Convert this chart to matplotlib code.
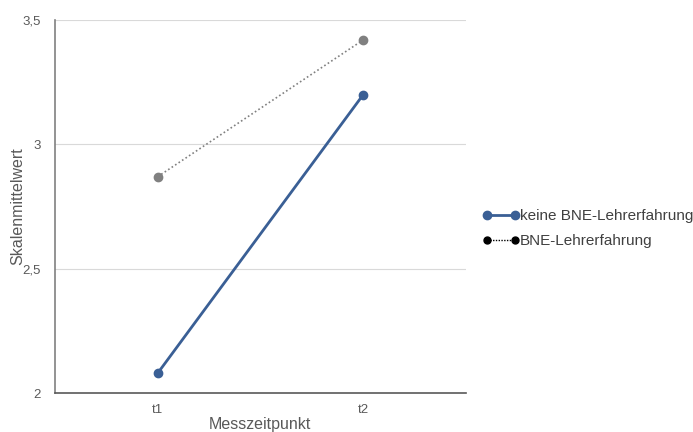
import matplotlib
matplotlib.use("Agg")
import matplotlib.pyplot as plt
from matplotlib.lines import Line2D

plt.rcParams['font.family'] = ['Liberation Sans', 'DejaVu Sans']

categories = ["t1", "t2"]
keine_bne = [2.08, 3.20]
bne = [2.87, 3.42]
series_names = ["keine BNE-Lehrerfahrung", "BNE-Lehrerfahrung"]
yticks = [2, 2.5, 3, 3.5]
ytick_labels = ["2", "2,5", "3", "3,5"]

fig = plt.figure(figsize=(6.93, 4.32), dpi=100)
L, R, T, B = 55, 466, 20, 393
ax = fig.add_axes([L/693, 1-B/432, (R-L)/693, (B-T)/432])

x = list(range(len(categories)))
blue = "#3A5F95"
gray = "#808080"
ax.plot(x, keine_bne, color=blue, lw=2, marker='o', ms=6, zorder=3)
ax.plot(x, bne, color=gray, lw=1.2, ls=(0, (1, 1.5)), marker='o', ms=6, zorder=3)

ax.set_xlim(-0.5, 1.5)
ax.set_ylim(2, 3.5)
ax.set_xticks(x)
ax.set_xticklabels(categories)
ax.set_yticks(yticks)
ax.set_yticklabels(ytick_labels)
ax.tick_params(length=0, labelsize=9.5, colors="#595959")
ax.tick_params(axis='x', pad=8)
ax.tick_params(axis='y', pad=10)
ax.grid(axis='y', color="#D9D9D9", lw=0.8)
ax.set_axisbelow(True)
for s in ["top", "right"]:
    ax.spines[s].set_visible(False)
ax.spines["left"].set_color("#808080")
ax.spines["bottom"].set_color("#595959")
ax.spines["left"].set_linewidth(1.2)
ax.spines["bottom"].set_linewidth(1.2)

ax.set_xlabel("Messzeitpunkt", fontsize=11.5, color="#595959")
ax.set_ylabel("Skalenmittelwert", fontsize=11.5, color="#595959")
ax.xaxis.set_label_coords((260 - L) / (R - L), -(425 - B) / (B - T), transform=ax.transAxes)
ax.yaxis.set_label_coords(-(L - 18) / (R - L), (B - 206) / (B - T), transform=ax.transAxes)
ax.xaxis.label.set_va("center")
ax.yaxis.label.set_va("center")

handles = [
    Line2D([0], [0], color=blue, lw=2, marker='o', ms=6),
    Line2D([0], [0], color="black", lw=1, ls=(0, (1, 1)), marker='o', ms=5),
]
leg = fig.legend(handles, series_names, loc="center left", bbox_to_anchor=(475/693, 1-228.5/432),
                 frameon=False, fontsize=11, handlelength=2.4, handletextpad=0.05, numpoints=2,
                 labelspacing=0.7, borderpad=0, labelcolor="#404040")

fig.savefig("out.png", dpi=100)
